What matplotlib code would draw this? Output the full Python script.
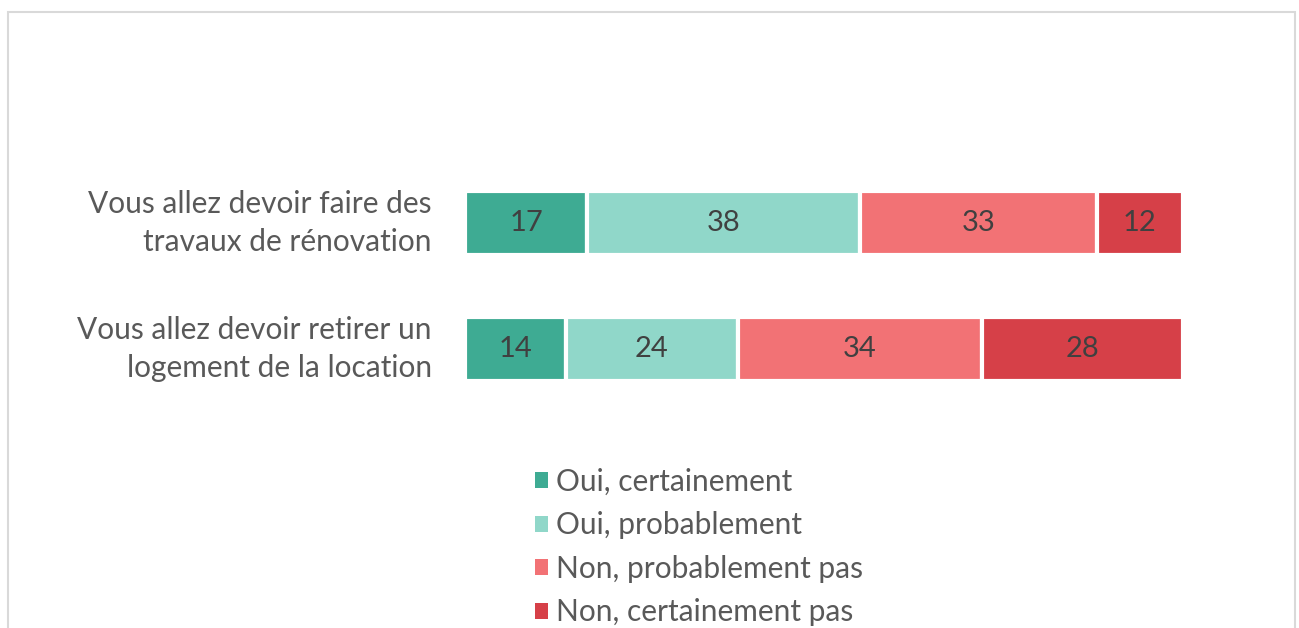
import matplotlib.pyplot as plt
from matplotlib.patches import Patch, Rectangle

plt.rcParams["font.family"] = ["Lato", "DejaVu Sans"]

categories = ["Vous allez devoir faire des\ntravaux de rénovation",
              "Vous allez devoir retirer un\nlogement de la location"]
series = ["Oui, certainement", "Oui, probablement",
          "Non, probablement pas", "Non, certainement pas"]
oui_cert = [17, 14]
oui_prob = [38, 24]
non_prob = [33, 34]
non_cert = [12, 28]
colors = ["#3EAB93", "#90D7C9", "#F27275", "#D64048"]

W, H = 1299, 628
fig = plt.figure(figsize=(W / 100, H / 100), dpi=100)

# light frame around the chart (bottom edge cut off in the reference)
fig.patches.append(Rectangle((8 / W, -0.05), (1295 - 8) / W, 1.05 - 12 / H,
                             transform=fig.transFigure, fill=False,
                             edgecolor="#D9D9D9", linewidth=1.5))

ax = fig.add_axes([465 / W, 1 - 381 / H, (1183 - 465) / W, 190 / H])
bar_h = 64 / 126
y = list(range(len(categories)))
left = [0] * len(categories)
for vals, col, name in zip([oui_cert, oui_prob, non_prob, non_cert], colors, series):
    bars = ax.barh(y, vals, left=left, height=bar_h, color=col,
                   edgecolor="white", linewidth=3, label=name)
    for b, v in zip(bars, vals):
        ax.text(b.get_x() + b.get_width() / 2, b.get_y() + b.get_height() / 2,
                str(v), ha="center", va="center", fontsize=21, color="#404040")
    left = [l + v for l, v in zip(left, vals)]

ax.set_xlim(0, 100)
ax.set_ylim(len(categories) - 1 + bar_h / 2, -bar_h / 2)
ax.set_yticks([])
ax.set_xticks([])
for s in ax.spines.values():
    s.set_visible(False)

# category labels, right-aligned left of the bars
for yi, cat in zip(y, categories):
    ax.annotate(cat, xy=(0, yi), xycoords=("axes fraction", "data"),
                xytext=(-24, 0), textcoords="offset points",
                ha="right", va="center", fontsize=21.5, color="#595959",
                linespacing=1.43)

handles = [Patch(facecolor=c, edgecolor="none") for c in colors]
fig.legend(handles, series, loc="upper left",
           bbox_to_anchor=(508 / W, 1 - 441 / H), frameon=False,
           fontsize=21.5, labelcolor="#595959", handlelength=0.45,
           handleheight=0.45, handletextpad=0.25, labelspacing=0.52)

fig.savefig("out.png", dpi=100, facecolor="white")
